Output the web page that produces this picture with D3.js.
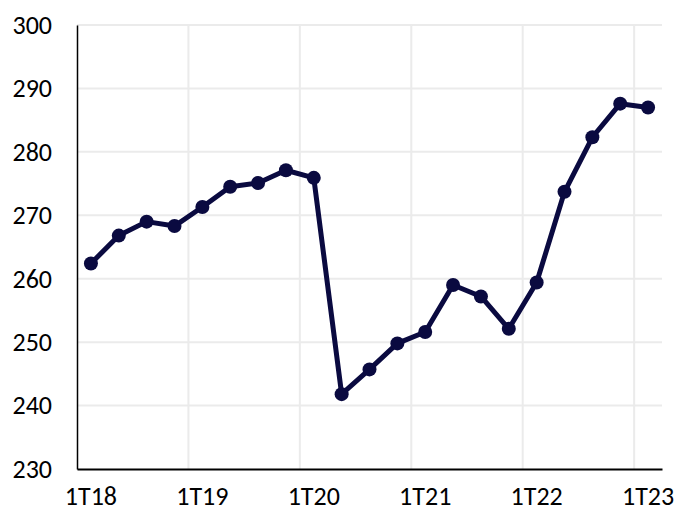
<!DOCTYPE html>
<html><head><meta charset="utf-8">
<script src="https://cdn.jsdelivr.net/npm/d3@7"></script>
<style>body{margin:0;background:#fff}svg{display:block}</style>
</head><body>
<script>
const categories = ["1T18","2T18","3T18","4T18","1T19","2T19","3T19","4T19","1T20","2T20","3T20","4T20","1T21","2T21","3T21","4T21","1T22","2T22","3T22","4T22","1T23"];
const values = [262.4,266.8,269.0,268.3,271.3,274.5,275.1,277.1,275.9,241.8,245.7,249.8,251.6,259.0,257.2,252.1,259.4,273.7,282.3,287.6,287.0];
const yTicks = [230,240,250,260,270,280,290,300];
const xTickLabels = ["1T18","1T19","1T20","1T21","1T22","1T23"];

const W=674,H=515;
const m={left:77,right:12,top:25,bottom:46};
const svg=d3.select("body").append("svg").attr("width",W).attr("height",H);
const x=d3.scaleBand().domain(categories).range([m.left,W-m.right]).padding(0);
const y=d3.scaleLinear().domain([230,300]).range([H-m.bottom,m.top]);
const font="Carlito, Calibri, Lato, sans-serif";

// horizontal gridlines
svg.append("g").selectAll("line").data(yTicks.slice(1)).join("line")
 .attr("x1",m.left).attr("x2",W-m.right).attr("y1",d=>y(d)).attr("y2",d=>y(d))
 .attr("stroke","#ebebeb").attr("stroke-width",2);
// vertical gridlines every 4 categories
const vIdx=[4,8,12,16,20];
svg.append("g").selectAll("line").data(vIdx).join("line")
 .attr("x1",i=>x(categories[i])).attr("x2",i=>x(categories[i]))
 .attr("y1",m.top).attr("y2",H-m.bottom)
 .attr("stroke","#ebebeb").attr("stroke-width",2);

// y axis
const ya=svg.append("g").attr("transform",`translate(${m.left},0)`)
 .call(d3.axisLeft(y).tickValues(yTicks).tickSize(0).tickPadding(25));
ya.select(".domain").attr("stroke","#000").attr("stroke-width",1.5);
ya.selectAll("text").attr("font-family",font).attr("font-size",26).attr("fill","#000");

// x axis
const xa=svg.append("g").attr("transform",`translate(0,${H-m.bottom})`)
 .call(d3.axisBottom(x).tickValues(xTickLabels).tickSize(0).tickPadding(18));
xa.select(".domain").attr("stroke","#000").attr("stroke-width",2);
xa.selectAll("text").attr("font-family",font).attr("font-size",26).attr("fill","#000");

const cx=d=>x(d)+x.bandwidth()/2;
const line=d3.line().x((d,i)=>cx(categories[i])).y(d=>y(d));
svg.append("path").datum(values).attr("d",line).attr("fill","none")
 .attr("stroke","#0a0a40").attr("stroke-width",5).attr("stroke-linejoin","round");
svg.append("g").selectAll("circle").data(values).join("circle")
 .attr("cx",(d,i)=>cx(categories[i])).attr("cy",d=>y(d)).attr("r",7)
 .attr("fill","#0a0a40");
</script>
</body></html>
